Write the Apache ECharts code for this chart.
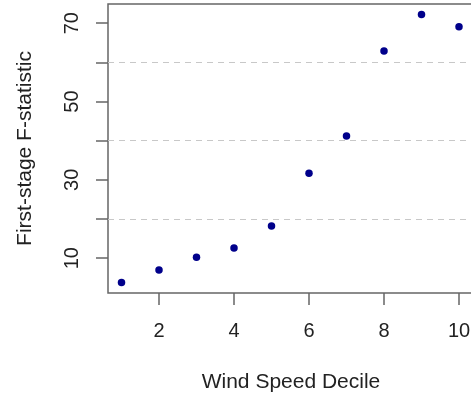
<!DOCTYPE html>
<html>
<head>
<meta charset="utf-8">
<script src="https://cdn.jsdelivr.net/npm/echarts@6/dist/echarts.min.js"></script>
<style>
  html, body { margin: 0; padding: 0; background: #fff; }
  #chart { width: 471px; height: 397px; }
</style>
</head>
<body>
<div id="chart"></div>
<script>
// wind speed deciles and first-stage F values
var deciles = [1, 2, 3, 4, 5, 6, 7, 8, 9, 10];
var fStats = [3.8, 7.0, 10.2, 12.6, 18.2, 31.7, 41.2, 62.9, 72.2, 69.1];
var xTicks = [2, 4, 6, 8, 10];
var yTicks = [10, 20, 30, 40, 50, 60, 70];
var yLabels = [10, 30, 50, 70];
var refLines = [20, 40, 60];

var font = 'Liberation Sans, Arial, sans-serif';
var axisGrey = '#666';

var points = deciles.map(function (d, i) { return [d, fStats[i]]; });

var myChart = echarts.init(document.getElementById('chart'), null, { renderer: 'canvas' });
myChart.setOption({
    animation: false,
    backgroundColor: '#fff',
    // plot box runs past the right edge of the picture, like the original crop
    grid: {
        left: 108, top: 4, width: 366, height: 289,
        show: true,
        borderColor: axisGrey,
        borderWidth: 1.5,
        containLabel: false,
        outerBoundsMode: 'none'
    },
    xAxis: {
        type: 'value',
        min: 0.64,
        max: 10.4,
        name: 'Wind Speed Decile',
        nameLocation: 'middle',
        nameGap: 79,
        nameTextStyle: { fontFamily: font, fontSize: 21, color: '#222' },
        axisLine: { show: false },
        axisTick: {
            show: true, length: 12, customValues: xTicks,
            lineStyle: { color: axisGrey, width: 1.5 }
        },
        axisLabel: {
            customValues: xTicks, margin: 28,
            fontFamily: font, fontSize: 20, color: '#222'
        },
        splitLine: { show: false }
    },
    yAxis: {
        type: 'value',
        min: 1.1,
        max: 74.9,
        name: 'First-stage F-statistic',
        nameLocation: 'middle',
        nameRotate: 90,
        nameGap: 72,
        nameTextStyle: { fontFamily: font, fontSize: 21, color: '#222' },
        axisLine: { show: false },
        axisTick: {
            show: true, length: 12, customValues: yTicks,
            lineStyle: { color: axisGrey, width: 1.5 }
        },
        axisLabel: {
            customValues: yLabels, rotate: 90, margin: 26,
            fontFamily: font, fontSize: 20, color: '#222'
        },
        splitLine: { show: false }
    },
    series: [{
        type: 'scatter',
        data: points,
        symbol: 'circle',
        symbolSize: 7.5,
        itemStyle: { color: '#00008b', opacity: 1 },
        markLine: {
            silent: true,
            symbol: ['none', 'none'],
            label: { show: false },
            lineStyle: { color: '#c8c8c8', type: [6, 5], width: 1 },
            data: refLines.map(function (v) { return { yAxis: v }; })
        }
    }]
});
</script>
</body>
</html>
